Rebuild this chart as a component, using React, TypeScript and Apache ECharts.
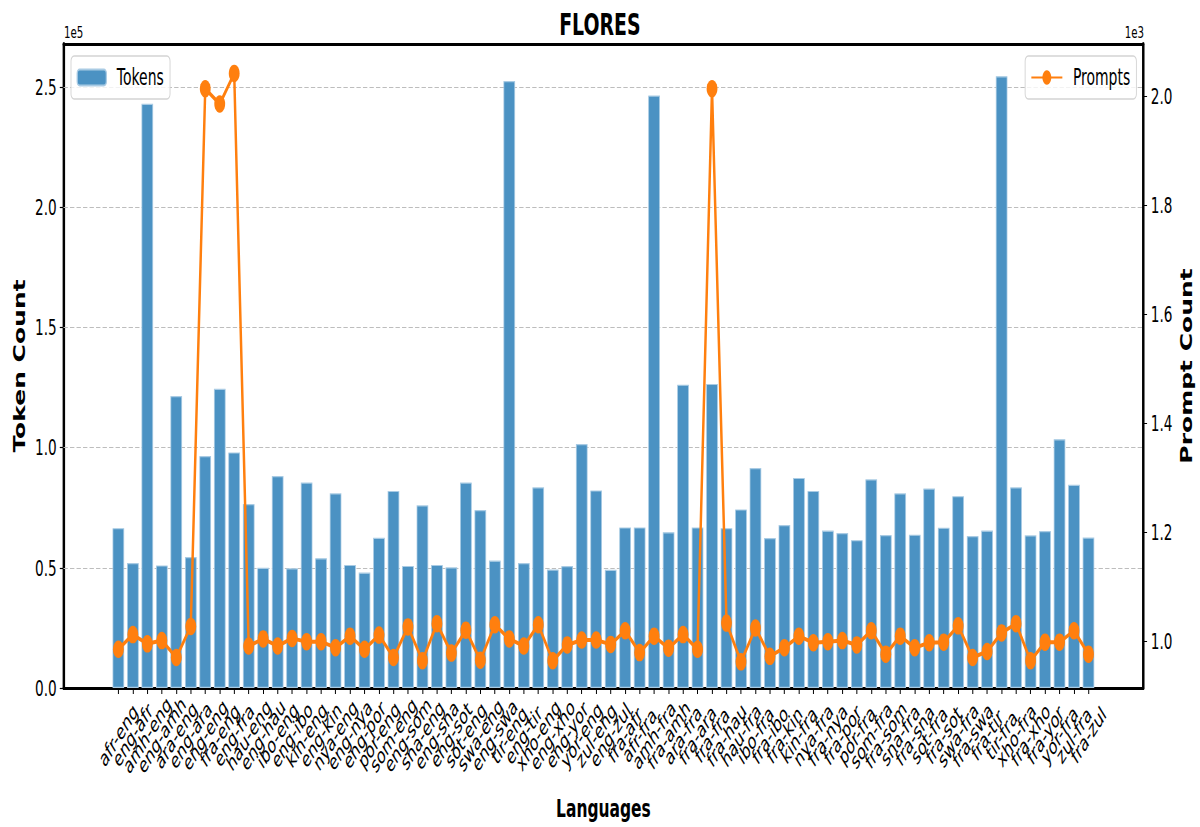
import React, { useEffect, useRef } from "react";
import * as echarts from "echarts";

const languages = [
  "afr-eng","eng-afr","amh-eng","eng-amh","ara-eng","eng-ara","eng-eng","fra-eng","eng-fra","hau-eng",
  "eng-hau","ibo-eng","eng-ibo","kin-eng","eng-kin","nya-eng","eng-nya","eng-por","por-eng","som-eng",
  "eng-som","sna-eng","eng-sna","eng-sot","sot-eng","swa-eng","eng-swa","tir-eng","eng-tir","xho-eng",
  "eng-xho","eng-yor","yor-eng","zul-eng","eng-zul","fra-afr","afr-fra","amh-fra","fra-amh","ara-fra",
  "fra-ara","fra-fra","fra-hau","hau-fra","ibo-fra","fra-ibo","fra-kin","kin-fra","nya-fra","fra-nya",
  "fra-por","por-fra","som-fra","fra-som","sna-fra","fra-sna","sot-fra","fra-sot","swa-fra","fra-swa",
  "fra-tir","tir-fra","xho-fra","fra-xho","fra-yor","yor-fra","zul-fra","fra-zul",
];

const tokens = [
  66500, 52000, 243000, 51000, 121500, 54500, 96500, 124500, 98000, 76500,
  50000, 88200, 49800, 85500, 54000, 81000, 51200, 48000, 62500, 82000,
  50800, 76000, 51200, 50200, 85500, 74000, 53000, 252500, 52000, 83500,
  49300, 50700, 101500, 82200, 49200, 66800, 66800, 246500, 64800, 126200,
  66800, 126500, 66500, 74300, 91500, 62400, 67800, 87400, 82000, 65500,
  64500, 61500, 86800, 63600, 81000, 63800, 83000, 66700, 79800, 63200,
  65500, 254500, 83500, 63500, 65300, 103500, 84500, 62600,
];

const prompts = [
  985, 1012, 995, 1001, 970, 1027, 2013, 1985, 2041, 991,
  1004, 991, 1005, 999, 999, 988, 1009, 985, 1011, 970,
  1026, 964, 1032, 978, 1020, 965, 1030, 1004, 991, 1030,
  964, 993, 1002, 1002, 994, 1019, 979, 1009, 987, 1012,
  985, 2013, 1033, 962, 1024, 972, 988, 1009, 997, 999,
  1001, 993, 1019, 976, 1009, 988, 997, 998, 1028, 970,
  981, 1015, 1032, 964, 998, 998, 1019, 976,
];

const leftTicks = [0, 50000, 100000, 150000, 200000, 250000];
const rightTicks = [1000, 1200, 1400, 1600, 1800, 2000];

// The reference figure is horizontally compressed; draw wide, then squeeze.
const S = 0.62;
const W = 1200 / S;
const H = 827;
const px = (x: number) => x / S;
const FONT = "'DejaVu Sans', sans-serif";

export default function App() {
  const ref = useRef<HTMLDivElement>(null);
  useEffect(() => {
    if (!ref.current) return;
    const chart = echarts.init(ref.current, null, { renderer: "svg" });
    const idx = languages.map((_, i) => i);
    // empty spacer labels at both ends keep ECharts' min/max-label overlap
    // check from dropping the second and second-to-last category labels
    const labelValues = [-3.5, ...idx, languages.length + 2.5];
    const option: any = {
      animation: false,
      backgroundColor: "#ffffff",
      textStyle: { fontFamily: FONT },
      title: {
        text: "FLORES",
        left: "center",
        top: 4,
        textStyle: { fontSize: 30.5, fontWeight: "bold", color: "#000", fontFamily: FONT },
      },
      legend: [
        {
          data: ["Tokens"],
          left: px(71),
          top: 56,
          padding: [10, 10, 10, 9],
          itemWidth: 47,
          itemHeight: 16,
          borderColor: "#d4d4d4",
          borderWidth: 1.5,
          borderRadius: 5,
          backgroundColor: "rgba(255,255,255,0.8)",
          textStyle: { fontSize: 22.5, color: "#000", fontFamily: FONT, padding: [0, 0, 0, 12] },
        },
        {
          data: ["Prompts"],
          right: px(63.3),
          top: 56,
          padding: [10, 10, 10, 9],
          itemWidth: 50,
          itemHeight: 18,
          borderColor: "#d4d4d4",
          borderWidth: 1.5,
          borderRadius: 5,
          backgroundColor: "rgba(255,255,255,0.8)",
          textStyle: { fontSize: 22.5, color: "#000", fontFamily: FONT, padding: [0, 0, 0, 12] },
        },
      ],
      grid: { left: px(63.5), right: px(56), top: 44, bottom: 139, containLabel: false },
      xAxis: [
        {
          type: "value",
          min: -3.79,
          max: 70.79,
          position: "bottom",
          name: "Languages",
          nameLocation: "middle",
          nameGap: 108,
          nameTextStyle: { fontSize: 25, fontWeight: "bold", color: "#000", fontFamily: FONT },
          axisLine: { show: true, onZero: false, lineStyle: { color: "#000", width: 2.8 } },
          axisTick: { show: true, length: 6, customValues: idx, lineStyle: { color: "#000", width: 1.6 } },
          axisLabel: {
            customValues: labelValues,
            interval: 0,
            showMinLabel: true,
            showMaxLabel: true,
            hideOverlap: false,
            rotate: 45,
            align: "center",
            verticalAlign: "middle",
            fontSize: 22,
            color: "#000",
            margin: 47,
            fontFamily: FONT,
            formatter: (v: number) => (Number.isInteger(v) ? languages[v] ?? "" : ""),
          },
          splitLine: { show: false },
        },
        {
          type: "value",
          min: -3.79,
          max: 70.79,
          position: "top",
          axisLine: { show: true, onZero: false, lineStyle: { color: "#000", width: 2.8 } },
          axisTick: { show: false },
          axisLabel: { show: false },
          splitLine: { show: false },
        },
      ],
      yAxis: [
        {
          type: "value",
          min: 0,
          max: 267900,
          position: "left",
          name: "Token Count",
          nameLocation: "middle",
          nameRotate: 90,
          nameGap: 58,
          nameTextStyle: { fontSize: 25, fontWeight: "bold", color: "#000", fontFamily: FONT },
          axisLine: { show: true, onZero: false, lineStyle: { color: "#000", width: 4 } },
          axisTick: { show: true, length: 6, customValues: leftTicks, lineStyle: { color: "#000", width: 1.2 } },
          axisLabel: {
            customValues: leftTicks,
            fontSize: 22,
            color: "#000",
            margin: 11,
            fontFamily: FONT,
            formatter: (v: number) => (v / 1e5).toFixed(1),
          },
          splitLine: { show: false },
        },
        {
          type: "value",
          min: 914,
          max: 2095,
          position: "right",
          name: "Prompt Count",
          nameLocation: "middle",
          nameRotate: 90,
          nameGap: 54,
          nameTextStyle: { fontSize: 25, fontWeight: "bold", color: "#000", fontFamily: FONT },
          axisLine: { show: true, onZero: false, lineStyle: { color: "#000", width: 4 } },
          axisTick: { show: true, length: 6, customValues: rightTicks, lineStyle: { color: "#000", width: 1.2 } },
          axisLabel: {
            customValues: rightTicks,
            fontSize: 22,
            color: "#000",
            margin: 12,
            fontFamily: FONT,
            formatter: (v: number) => (v / 1000).toFixed(1),
          },
          splitLine: { show: false },
        },
      ],
      graphic: [
        {
          type: "text",
          x: px(64),
          y: 40,
          style: { text: "1e5", fontSize: 16.5, fill: "#000", fontFamily: FONT, textVerticalAlign: "bottom" },
        },
        {
          type: "text",
          x: px(1144),
          y: 40,
          style: { text: "1e3", fontSize: 16.5, fill: "#000", fontFamily: FONT, textAlign: "right", textVerticalAlign: "bottom" },
        },
      ],
      series: [
        {
          name: "Tokens",
          type: "bar",
          xAxisIndex: 0,
          yAxisIndex: 0,
          barWidth: 0.8 * px(14.493),
          data: tokens.map((v, i) => [i, v]),
          itemStyle: { color: "#4b92c3", borderColor: "#a9cbe4", borderWidth: 1.2 },
          markLine: {
            silent: true,
            symbol: "none",
            label: { show: false },
            lineStyle: { color: "#bdbdbd", type: [7, 3.5], width: 1.2 },
            data: leftTicks.slice(1).map((t) => ({ yAxis: t })),
            z: 1,
          },
          z: 2,
        },
        {
          name: "Prompts",
          type: "line",
          xAxisIndex: 0,
          yAxisIndex: 1,
          data: prompts.map((v, i) => [i, v]),
          symbol: "circle",
          symbolSize: 17.5,
          lineStyle: { color: "#ff7f0e", width: 4 },
          itemStyle: { color: "#ff7f0e" },
          z: 3,
        },
      ],
    };
    chart.setOption(option);
    return () => chart.dispose();
  }, []);
  return (
    <div style={{ position: "fixed", left: 0, top: 0, width: 1200, height: H, overflow: "hidden", background: "#fff" }}>
      <div
        ref={ref}
        style={{ width: W, height: H, transform: `scaleX(${S})`, transformOrigin: "0 0", background: "#fff" }}
      />
    </div>
  );
}
